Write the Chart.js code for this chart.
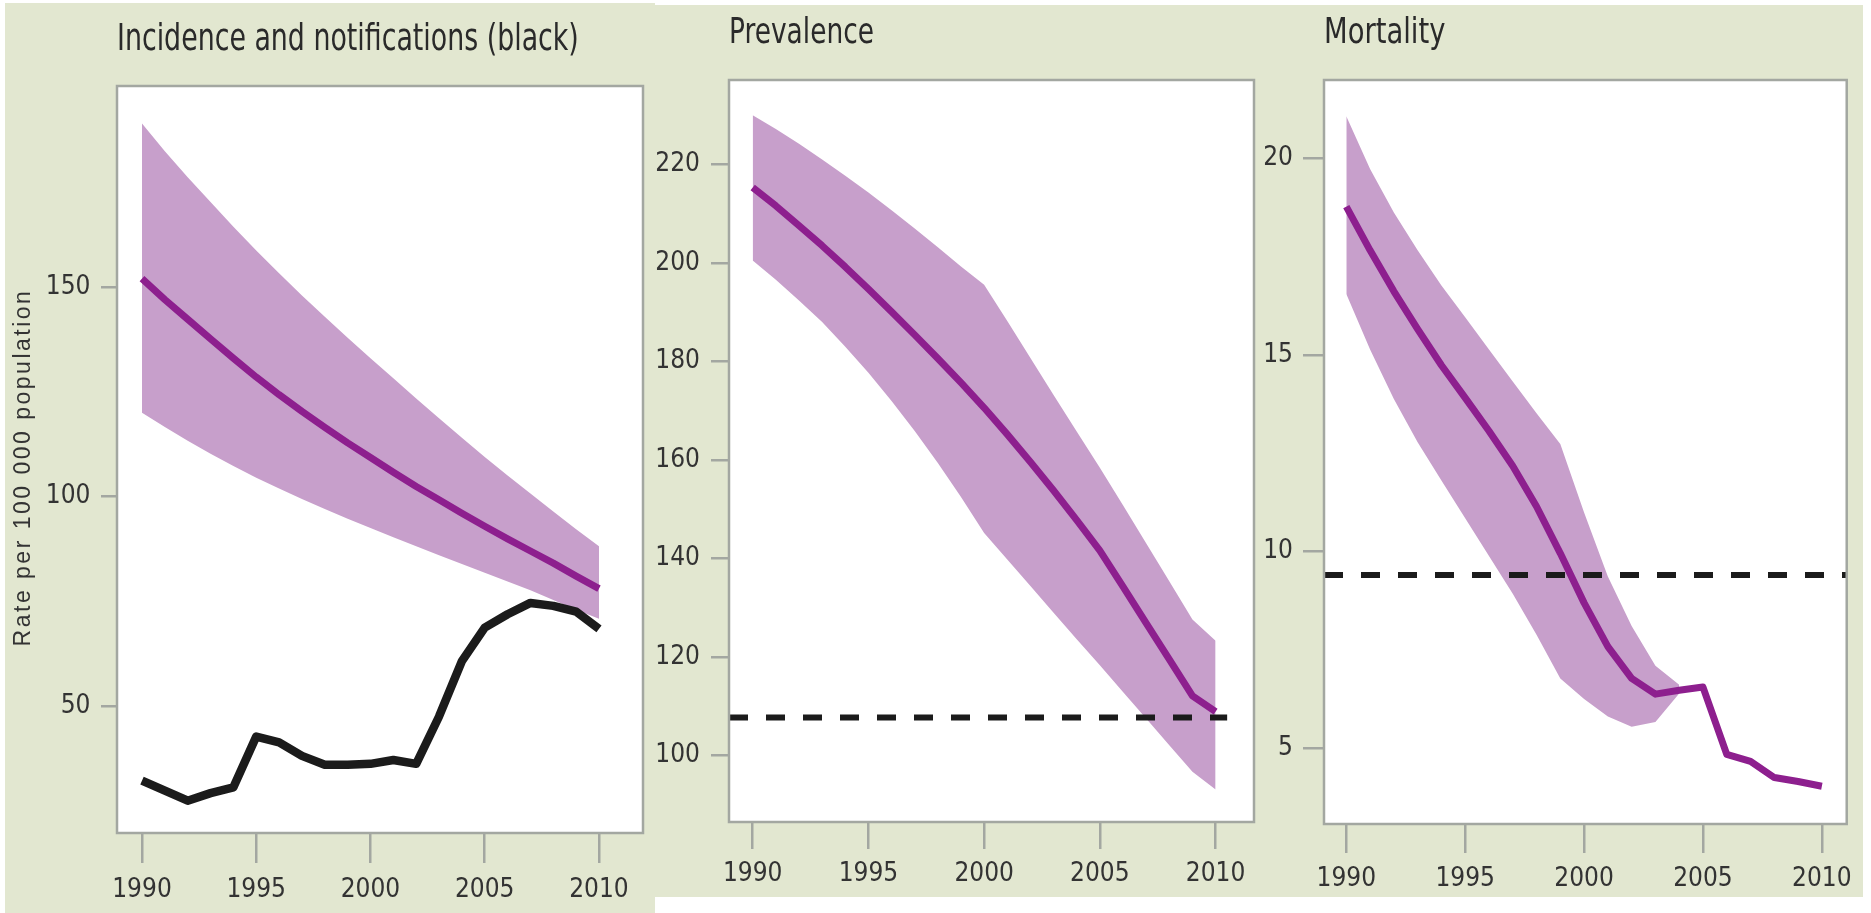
<!DOCTYPE html>
<html><head><meta charset="utf-8">
<script src="https://cdn.jsdelivr.net/npm/chart.js@4.4.1/dist/chart.umd.min.js"></script>
<style>
html,body{margin:0;padding:0;background:#fff;width:1871px;height:913px;overflow:hidden;}
.bg{position:absolute;background:#e2e7d0;}
canvas{position:absolute;}
</style></head><body>
<div class="bg" style="left:5px;top:3px;width:650px;height:910px"></div>
<div class="bg" style="left:655px;top:5px;width:1208px;height:892px"></div>
<canvas id="c1" width="650" height="910" style="left:5px;top:3px"></canvas>
<canvas id="c2" width="620" height="892" style="left:640px;top:5px"></canvas>
<canvas id="c3" width="613" height="892" style="left:1250px;top:5px"></canvas>
<script>
// ---------- data ----------
const years = [1990,1991,1992,1993,1994,1995,1996,1997,1998,1999,2000,2001,2002,2003,2004,2005,2006,2007,2008,2009,2010];
const xTickLabels = [1990,1995,2000,2005,2010];

const titles = ["Incidence and notifications (black)", "Prevalence", "Mortality"];
const yAxisTitle = "Rate per 100 000 population";

const incCentral = [152,147,142.3,137.6,133,128.5,124.3,120.3,116.5,112.8,109.3,105.8,102.4,99.2,96,92.9,89.9,87,84.1,81,78];
const incUpper   = [189,182.4,176.2,170.3,164.4,158.7,153.3,148,142.9,137.9,133,128.2,123.4,118.7,114,109.4,105,100.7,96.4,92.2,88.1];
const incLower   = [120,116.6,113.3,110.2,107.3,104.5,101.9,99.4,97,94.7,92.5,90.3,88.1,86,83.9,81.8,79.7,77.6,75.3,73,70.8];
const notifications = [32.2,29.8,27.4,29.2,30.6,42.7,41.3,38.1,36,36,36.2,37.1,36.2,47.5,60.7,68.7,71.9,74.6,73.9,72.5,68.4];
const incYTicks = [50,100,150];

const prevCentral = [215.3,211.6,207.6,203.5,199.2,194.7,190.1,185.4,180.6,175.7,170.6,165.2,159.6,153.8,147.8,141.6,134.3,126.9,119.5,112.1,108.9];
const prevUpper   = [230,227.2,224.2,221,217.7,214.3,210.7,207,203.2,199.3,195.6,188.2,180.7,173.2,165.8,158.4,150.8,143.1,135.4,127.6,123.3];
const prevLower   = [200.5,196.6,192.4,188,183,177.7,172,165.9,159.4,152.5,145.2,139.8,134.4,129,123.6,118.3,112.9,107.5,102.1,96.7,93.1];
const prevTarget  = [107.7];
const prevYTicks  = [100,120,140,160,180,200,220];

const mortCentral = [18.77,17.66,16.62,15.66,14.74,13.91,13.07,12.18,11.15,9.96,8.70,7.59,6.78,6.38,6.48,6.56,4.85,4.67,4.26,4.16,4.04];
const mortUpper   = [21.07,19.73,18.62,17.66,16.77,15.96,15.14,14.33,13.52,12.74,11.0,9.37,8.11,7.10,6.62,null,null,null,null,null,null];
const mortLower   = [16.55,15.14,13.88,12.78,11.81,10.85,9.89,8.93,7.89,6.78,6.26,5.81,5.55,5.67,6.40,null,null,null,null,null,null];
const mortTarget  = [9.41];
const mortYTicks  = [5,10,15,20];

// ---------- styles ----------
const PURPLE = '#8d1f8e';
const BAND = '#c79fcb';
const BLACK = '#1b1b1b';
const AXIS = '#a3a7a1';
const TXT = '#333333';
const NARROW = "'Liberation Sans Narrow','Arial Narrow','DejaVu Sans Condensed',sans-serif";

const pts = (arr) => years.map((y,i) => ({x:y, y:arr[i]}));

const boxPlugin = {
  id: 'box',
  beforeDraw(chart) {
    const {ctx, chartArea:a} = chart;
    ctx.save(); ctx.fillStyle = '#fff'; ctx.fillRect(a.left, a.top, a.width, a.height); ctx.restore();
    const o = chart.options.plugins.box || {};
    const ys = chart.scales.y;
    if (ys && !ys._lsPatched && o.titleSpacing) {
      const orig = ys.drawTitle.bind(ys);
      ys.drawTitle = function() { const c = this.ctx; c.save(); c.letterSpacing = o.titleSpacing; c.translate(0, o.titleShift || 0); orig(); c.restore(); };
      ys._lsPatched = true;
    }
    const tb = chart.titleBlock;
    if (tb && !tb._sxPatched && o.titleScaleX) {
      const origT = tb.draw.bind(tb);
      tb.draw = function() { const c = this.ctx; const x0 = this.left; c.save(); c.translate(x0, 0); c.scale(o.titleScaleX, 1); c.translate(-x0, 0); origT(); c.restore(); };
      tb._sxPatched = true;
    }
  },
  afterDatasetsDraw(chart) {
    const {ctx, chartArea:a} = chart;
    ctx.save(); ctx.strokeStyle = AXIS; ctx.lineWidth = 2.5;
    ctx.strokeRect(a.left, a.top, a.width, a.height); ctx.restore();
  }
};

function makePanel(id, p) {
  const datasets = [];
  if (p.target) {
    datasets.push({ data: [{x:p.xMin, y:p.target[0]}, {x:p.targetEnd, y:p.target[0]}],
      borderColor: BLACK, borderWidth: 6, borderDash: [19,18], pointRadius: 0, fill: false });
  }
  datasets.push({ data: pts(p.central), borderColor: PURPLE, borderWidth: 7, pointRadius: 0, fill: false, borderJoinStyle: 'round' });
  if (p.notif) datasets.push({ data: pts(p.notif), borderColor: BLACK, borderWidth: 8.5, pointRadius: 0, fill: false, borderJoinStyle: 'round' });
  datasets.push({ data: pts(p.upper), borderWidth: 0, borderColor: 'rgba(0,0,0,0)', backgroundColor: BAND, pointRadius: 0, fill: '+1' });
  datasets.push({ data: pts(p.lower), borderWidth: 0, borderColor: 'rgba(0,0,0,0)', pointRadius: 0, fill: false });

  return new Chart(document.getElementById(id), {
    type: 'line',
    data: { datasets },
    plugins: [boxPlugin],
    options: {
      responsive: false, animation: false, events: [],
      layout: { padding: { left: 0, top: 0, right: p.padRight, bottom: 0 } },
      elements: { line: { tension: 0 } },
      plugins: {
        legend: { display: false }, tooltip: { enabled: false },
        box: { titleSpacing: p.yTitle ? '2.5px' : null, titleShift: 8, titleScaleX: p.titleScaleX },
        title: { display: true, text: p.title, align: 'start', fullSize: false, color: '#2a2a2a',
          font: { family: NARROW, size: p.titleSize, weight: 'normal', lineHeight: 1.2 },
          padding: { top: p.titlePadTop, bottom: p.titlePadBottom } }
      },
      scales: {
        x: { type: 'linear', min: p.xMin, max: p.xMax,
          afterBuildTicks: s => { s.ticks = xTickLabels.map(v => ({value: v})); },
          afterFit: s => { s.height = p.xAxisH; },
          grid: { drawOnChartArea: false, drawTicks: true, tickLength: p.xTickLen, color: AXIS, lineWidth: 2.5 },
          border: { display: false },
          ticks: { padding: p.xTickPad, color: TXT, font: { family: NARROW, size: 26 }, autoSkip: false, maxRotation: 0, callback: v => String(v) }
        },
        y: { type: 'linear', min: p.yMin, max: p.yMax,
          afterBuildTicks: s => { s.ticks = p.yTicks.map(v => ({value: v})); },
          afterFit: s => { s.width = p.yAxisW; },
          grid: { drawOnChartArea: false, drawTicks: true, tickLength: p.yTickLen, color: AXIS, lineWidth: 2.5 },
          border: { display: false },
          ticks: { padding: p.yTickPad, color: TXT, font: { family: NARROW, size: 26 }, autoSkip: false, callback: v => String(v) },
          title: p.yTitle ? { display: true, text: p.yTitle, color: TXT, font: { family: "'Liberation Sans',sans-serif", size: 23 }, padding: { top: 5, bottom: 0 } } : { display: false }
        }
      }
    }
  });
}

makePanel('c1', { title: titles[0], titleSize: 38, titleScaleX: 0.878, titlePadTop: 14.2, titlePadBottom: 23.2,
  central: incCentral, upper: incUpper, lower: incLower, notif: notifications,
  xMin: 1988.906, xMax: 2011.926, yMin: 19.69, yMax: 197.97, yTicks: incYTicks,
  padRight: 12, xAxisH: 80, yAxisW: 112, xTickLen: 30, xTickPad: 11.6, yTickLen: 16, yTickPad: 10.5,
  yTitle: yAxisTitle });

makePanel('c2', { title: titles[1], titleSize: 35, titleScaleX: 0.84, titlePadTop: 7.5, titlePadBottom: 25.5,
  central: prevCentral, upper: prevUpper, lower: prevLower, target: prevTarget, targetEnd: 2010.5,
  xMin: 1988.976, xMax: 2011.66, yMin: 86.5, yMax: 237.15, yTicks: prevYTicks,
  padRight: 6, xAxisH: 75, yAxisW: 89, xTickLen: 27, xTickPad: 9.6, yTickLen: 18, yTickPad: 11 });

makePanel('c3', { title: titles[2], titleSize: 35, titleScaleX: 0.87, titlePadTop: 7.5, titlePadBottom: 25.5,
  central: mortCentral, upper: mortUpper, lower: mortLower, target: mortTarget, targetEnd: 2011.045,
  xMin: 1989.062, xMax: 2011.045, yMin: 3.08, yMax: 21.99, yTicks: mortYTicks,
  padRight: 7, xAxisH: 73, yAxisW: 74, xTickLen: 29, xTickPad: 10.6, yTickLen: 21, yTickPad: 10 });
</script>
</body></html>
